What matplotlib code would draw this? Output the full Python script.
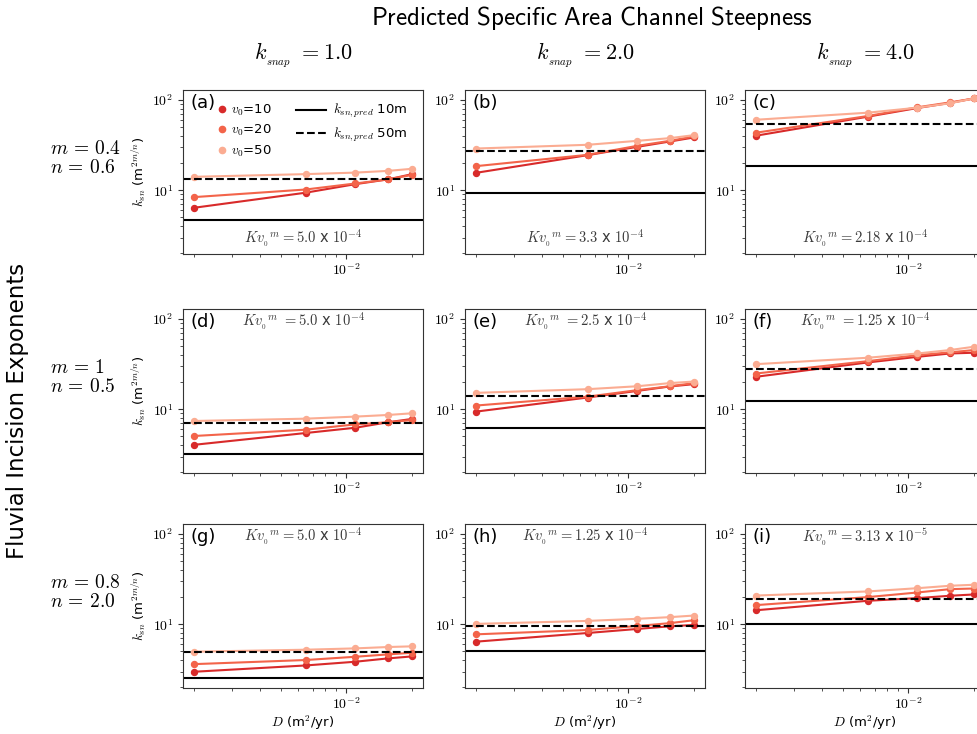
import numpy as np
import matplotlib
matplotlib.use("Agg")
import matplotlib.pyplot as plt
from matplotlib.ticker import FuncFormatter, NullFormatter
from matplotlib.lines import Line2D

plt.rcParams['font.family'] = ['DejaVu Sans']
plt.rcParams['mathtext.fontset'] = 'cm'
plt.rcParams['axes.edgecolor'] = '#333333'
plt.rcParams['xtick.color'] = '#333333'
plt.rcParams['ytick.color'] = '#333333'
plt.rcParams['xtick.labelcolor'] = 'black'
plt.rcParams['ytick.labelcolor'] = 'black'

# diffusivity values (m^2/yr)
D = [0.002, 0.0065, 0.011, 0.0155, 0.02]

# k_sn for each panel (a..i), one list per v0
ksn_v10 = [
    [6.4, 9.4, 11.7, 13.2, 15.1],
    [15.6, 24.5, 30.3, 34.7, 38.5],
    [40.2, 65.3, 81.5, 92.7, 104.0],
    [4.04, 5.46, 6.25, 7.18, 7.82],
    [9.42, 13.5, 16.0, 17.9, 19.0],
    [22.9, 33.0, 38.1, 41.5, 42.3],
    [2.98, 3.5, 3.85, 4.19, 4.41],
    [6.42, 8.01, 8.88, 9.5, 9.84],
    [14.3, 18.2, 19.5, 20.7, 21.4],
]
ksn_v20 = [
    [8.4, 10.2, 11.9, 13.2, 14.8],
    [18.5, 24.7, 31.1, 35.3, 39.5],
    [43.4, 66.4, 83.0, 94.0, 104.0],
    [5.06, 5.94, 6.81, 7.18, 7.6],
    [11.0, 13.8, 16.3, 18.0, 19.5],
    [24.9, 34.1, 39.8, 42.7, 45.3],
    [3.62, 4.02, 4.37, 4.64, 4.84],
    [7.74, 8.65, 9.58, 10.3, 11.1],
    [16.3, 20.0, 22.5, 24.5, 24.9],
]
ksn_v50 = [
    [14.1, 15.1, 15.7, 16.4, 17.3],
    [29.0, 31.9, 35.3, 37.8, 40.8],
    [60.4, 72.3, 82.2, 91.9, 104.0],
    [7.42, 7.87, 8.3, 8.65, 9.03],
    [15.2, 16.7, 18.0, 19.5, 20.3],
    [31.6, 37.2, 41.5, 45.3, 49.3],
    [4.97, 5.23, 5.41, 5.6, 5.7],
    [10.1, 10.9, 11.5, 12.0, 12.5],
    [20.8, 23.1, 25.1, 26.7, 27.4],
]
ksn_pred_10m = [4.64, 9.26, 18.6, 3.16, 6.25, 12.5, 2.54, 5.06, 10.0]
ksn_pred_50m = [13.5, 27.1, 54.6, 7.11, 14.1, 28.1, 4.89, 9.66, 19.1]

panel_labels = ['(a)', '(b)', '(c)', '(d)', '(e)', '(f)', '(g)', '(h)', '(i)']
kv_labels = [
    r'$Kv_{_0}{}^{m} = 5.0$ x $10^{-4}$',
    r'$Kv_{_0}{}^{m} = 3.3$ x $10^{-4}$',
    r'$Kv_{_0}{}^{m} = 2.18$ x $10^{-4}$',
    r'$Kv_{_0}{}^{m}\ = 5.0$ x $10^{-4}$',
    r'$Kv_{_0}{}^{m}\ = 2.5$ x $10^{-4}$',
    r'$Kv_{_0}{}^{m}\ = 1.25$ x $10^{-4}$',
    r'$Kv_{_0}{}^{m} = 5.0$ x $10^{-4}$',
    r'$Kv_{_0}{}^{m} = 1.25$ x $10^{-4}$',
    r'$Kv_{_0}{}^{m} = 3.13$ x $10^{-5}$',
]
col_titles = [r'$k_{_{snap}}\ = 1.0$', r'$k_{_{snap}}\ = 2.0$', r'$k_{_{snap}}\ = 4.0$']
row_titles = ['$m\\, =\\, 0.4$\n$n\\, =\\, 0.6$', '$m\\, =\\, 1$\n$n\\, =\\, 0.5$',
              '$m\\, =\\, 0.8$\n$n\\, =\\, 2.0$']
v0_labels = ['$v_0$=10', '$v_0$=20', '$v_0$=50']
colors = ['#d82a2a', '#f3644a', '#fbac92']

W, H = 978, 734
fig = plt.figure(figsize=(W / 100, H / 100), dpi=100)

col_left = [183, 465, 745]
row_top = [90, 309, 524]
ax_w, ax_h = 240, 164

fmt = FuncFormatter(lambda v, p: r'$10^{%d}$' % int(round(np.log10(v))))

for i in range(9):
    r, c = divmod(i, 3)
    ax = fig.add_axes([col_left[c] / W, 1 - (row_top[r] + ax_h) / H, ax_w / W, ax_h / H])
    for vals, col in zip([ksn_v10[i], ksn_v20[i], ksn_v50[i]], colors):
        ax.plot(D, vals, '-o', color=col, lw=1.5, ms=4.3)
    ax.axhline(ksn_pred_10m[i], color='black', lw=1.5, ls='-')
    ax.axhline(ksn_pred_50m[i], color='black', lw=1.5, ls='--')
    ax.set_xscale('log')
    ax.set_yscale('log')
    ax.set_ylim(1.97, 129)
    ax.xaxis.set_major_formatter(fmt)
    ax.yaxis.set_major_formatter(fmt)
    ax.xaxis.set_minor_formatter(NullFormatter())
    ax.yaxis.set_minor_formatter(NullFormatter())
    ax.tick_params(labelsize=10)
    ax.tick_params(axis='x', pad=2.5)

    ax.text(0.03, 0.92, panel_labels[i], transform=ax.transAxes, fontsize=13, va='center', ha='left')
    if r == 0:
        ax.text(0.5, 0.09, kv_labels[i], transform=ax.transAxes, fontsize=10.5,
                ha='center', va='center', color='#3a3a3a')
    else:
        ax.text(0.5, 0.92, kv_labels[i], transform=ax.transAxes, fontsize=10.5,
                ha='center', va='center', color='#3a3a3a')

    if c == 0:
        ax.set_ylabel(r'$k_{sn}$ (m$^{2m/n}$)', fontsize=9.5, labelpad=3)
    if r == 2:
        ax.set_xlabel(r'$D$ (m$^2$/yr)', fontsize=9.5, labelpad=1)

    if i == 0:
        h1 = [Line2D([], [], ls='none', marker='o', ms=4.5, color=col) for col in colors]
        leg1 = ax.legend(h1, v0_labels, loc='upper left', bbox_to_anchor=(0.145, 0.925),
                         frameon=False, fontsize=9.5, handlelength=0.6, handletextpad=0.4,
                         borderpad=0, borderaxespad=0, labelspacing=0.4)
        ax.add_artist(leg1)
        h2 = [Line2D([], [], color='black', lw=1.5, ls='-'),
              Line2D([], [], color='black', lw=1.5, ls='--')]
        ax.legend(h2, [r'$k_{sn,pred}$ 10m', r'$k_{sn,pred}$ 50m'], loc='upper left',
                  bbox_to_anchor=(0.47, 0.925), frameon=False, fontsize=9.5,
                  handlelength=2.3, handletextpad=0.55, borderpad=0, borderaxespad=0,
                  labelspacing=0.4)

# column and row headers
for c in range(3):
    fig.text((col_left[c] + ax_w / 2) / W, 1 - 55 / H, col_titles[c], fontsize=16,
             ha='center', va='center')
for r in range(3):
    fig.text(50 / W, 1 - (row_top[r] + 68) / H, row_titles[r], fontsize=14,
             ha='left', va='center', linespacing=1.05)

fig.text(592 / W, 1 - 18 / H, r'$\mathsf{Predicted\ Specific\ Area\ Channel\ Steepness}$',
         fontsize=18, ha='center', va='center')
fig.text(18 / W, 1 - 411 / H, 'Fluvial Incision Exponents', fontsize=16.5,
         rotation=90, ha='center', va='center')

fig.savefig('out.png', dpi=100)
